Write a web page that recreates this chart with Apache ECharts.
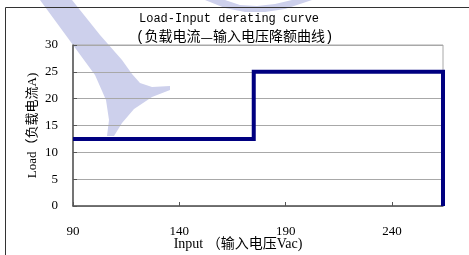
<!DOCTYPE html>
<html><head><meta charset="utf-8">
<script src="https://cdn.jsdelivr.net/npm/echarts@6/dist/echarts.min.js"></script>
<style>html,body{margin:0;padding:0;background:#fff}#c{width:469px;height:255px}</style>
</head><body><div id="c"></div>
<script>
const titleText = 'Load-Input derating curve';
const subtitleParts = ['(负载电流', '—', '输入电压降额曲线)'];
const xName = 'Input （输入电压Vac)';
const yName = 'Load（负载电流A)';
const inputV = [90, 175, 175, 264, 264];
const loadA = [12.5, 12.5, 25, 25, 0];
const xMin = 90, xMax = 264, xStep = 50;
const yMin = 0, yMax = 30, yStep = 5;

const chart = echarts.init(document.getElementById('c'), null, {renderer: 'canvas'});
const serifFont = '"Liberation Serif", "Noto Sans CJK SC", serif';
const monoFont = '"Liberation Mono", "Noto Sans CJK SC", monospace';
const cjkFont = '"Noto Sans CJK SC", sans-serif';
const wm = '#cdd0ec';
chart.setOption({
  animation: false,
  backgroundColor: '#ffffff',
  graphic: [
    {type: 'rect', z: 0, shape: {x: 5.5, y: 7.5, width: 480, height: 260}, style: {fill: 'none', stroke: '#333', lineWidth: 1}},
    {type: 'polygon', z: -10, shape: {points: [[40,0],[72,0],[100,35],[122,60],[132,74],[140,83],[152,87],[170,86],[170,90],[152,97],[134,109],[122,123],[114,136],[107,136],[109,120],[106,100],[95,75]]}, style: {fill: wm}},
    {type: 'polygon', z: -10, shape: {points: [[205,0],[225,8],[245,12],[265,12],[285,9],[312,0],[292,0],[275,4],[257,6],[240,5],[225,0]]}, style: {fill: wm}},
    {type: 'text', z: 5, x: 139, y: 13, style: {text: titleText, font: '12px ' + monoFont, fill: '#000'}},
    {type: 'text', z: 5, x: 136, y: 30, style: {
      text: '{a|' + subtitleParts[0] + '}{d|' + subtitleParts[1] + '}{a|' + subtitleParts[2] + '}',
      rich: {a: {fontFamily: monoFont, fontSize: 14, fill: '#000'}, d: {fontFamily: cjkFont, fontSize: 14, fill: '#000'}}
    }}
  ],
  grid: {left: 73, right: 26, top: 45, height: 161, show: true, borderColor: '#a8a8a8', borderWidth: 1, backgroundColor: 'transparent', containLabel: false, outerBoundsMode: 'none'},
  xAxis: {
    type: 'value', min: xMin, max: xMax, interval: xStep,
    name: xName, nameLocation: 'middle', nameGap: 31, nameMoveOverlap: false,
    nameTextStyle: {fontFamily: serifFont, fontSize: 14, color: '#000', padding: [0, 40, 0, 0]},
    axisLine: {show: true, lineStyle: {color: '#555', width: 1.5}},
    axisTick: {show: true, inside: true, length: 4, lineStyle: {color: '#555'}},
    axisLabel: {margin: 19, fontFamily: serifFont, fontSize: 13, color: '#000', showMaxLabel: false},
    splitLine: {show: false}
  },
  yAxis: {
    type: 'value', min: yMin, max: yMax, interval: yStep,
    name: yName, nameLocation: 'middle', nameGap: 34, nameMoveOverlap: false,
    nameTextStyle: {fontFamily: serifFont, fontSize: 13, color: '#000'},
    axisLine: {show: true, lineStyle: {color: '#555', width: 1.5}},
    axisTick: {show: true, inside: true, length: 4, lineStyle: {color: '#555'}},
    axisLabel: {margin: 15, fontFamily: serifFont, fontSize: 13, color: '#000'},
    splitLine: {show: true, lineStyle: {color: '#a8a8a8', width: 1}}
  },
  series: [{
    type: 'line', data: inputV.map((x, i) => [x, loadA[i]]),
    symbol: 'none', lineStyle: {color: '#000080', width: 4, join: 'miter'}
  }]
});
</script></body></html>
